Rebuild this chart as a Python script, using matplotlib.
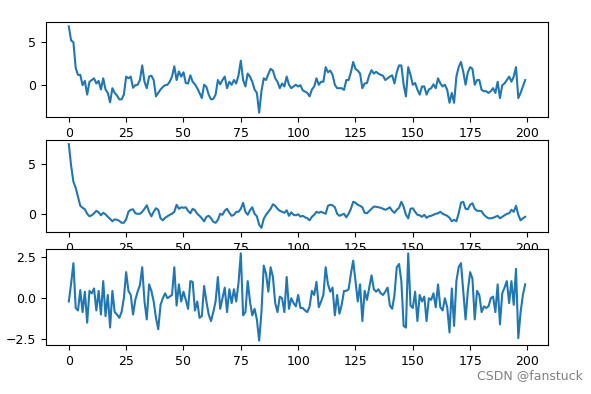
import numpy as np
import matplotlib
matplotlib.use("Agg")
import matplotlib.pyplot as plt

# series (one value per step, 200 steps)
y_top = [
    6.85, 5.2, 5.0, 2.0, 1.2, 1.2, 0.0, 0.5, -1.1, 0.4,
    0.6, 0.8, 0.2, 0.5, -0.5, 0.8, -0.5, -0.9, -2.0, -0.35,
    -0.9, -1.2, -1.65, -1.65, -1.1, 1.0, 0.8, 1.0, -0.3, 0.0,
    0.05, 0.6, 2.3, 0.4, -0.35, 1.0, 1.1, 0.6, -1.3, -0.9,
    -0.5, -0.2, 0.0, 0.05, 0.4, 1.0, 2.2, 0.6, 1.6, 1.0,
    1.5, 0.25, 0.2, 1.15, 0.4, 0.1, -0.35, -0.9, -1.5, 0.05,
    -0.2, -1.1, -1.65, -1.6, -1.1, 0.6, 0.1, 0.6, 1.0, -0.35,
    0.4, 0.05, 0.6, 0.2, 1.15, 2.85, 0.6, -0.15, 1.35, 1.0,
    0.4, -0.5, -0.9, -3.2, -0.7, 0.8, 0.6, 1.3, 1.9, 1.7,
    0.8, 0.4, -0.35, 0.2, -0.15, 1.0, 0.05, -0.35, -0.15, 0.05,
    -0.15, 0.0, -0.6, -0.75, -0.9, -1.3, -0.5, -0.15, 0.8, 0.05,
    0.4, 0.4, 2.1, 1.5, 1.7, 1.2, 0.05, -0.35, -0.35, -0.35,
    -0.55, 0.6, 0.6, 1.5, 2.7, 1.9, 1.7, 1.35, -0.35, 0.2,
    0.25, 1.15, 1.75, 1.35, 1.55, 1.35, 1.2, 1.1, 0.6, 0.8,
    1.0, 1.15, 0.2, 1.5, 2.3, 2.3, 0.05, -1.3, 2.1, 1.2,
    0.05, 0.25, -0.5, -1.1, -0.15, -0.15, -1.1, -0.5, -0.35, 0.1,
    -0.35, 0.8, 0.2, -0.15, 0.05, -0.55, -2.05, -0.9, -2.05, 1.0,
    2.1, 2.7, 1.55, 0.05, 1.5, 2.1, 1.9, 0.05, 0.6, 0.6,
    -0.55, -0.7, -0.7, -0.9, -0.7, -0.35, -0.9, 0.4, -1.5, 0.0,
    0.2, 0.6, 1.0, 0.4, 1.0, 2.1, -1.5, -0.9, -0.15, 0.6,
]

y_mid = [
    6.95, 4.8, 3.2, 2.6, 1.7, 0.8, 0.6, 0.45, 0.0, -0.25,
    -0.15, 0.05, 0.3, 0.15, -0.15, 0.1, -0.05, -0.3, -0.5, -0.75,
    -0.55, -0.6, -0.7, -0.9, -0.9, -0.55, 0.2, 0.4, 0.45, 0.05,
    0.0, 0.0, 0.2, 0.5, 0.85, 0.2, -0.25, 0.2, 0.55, 0.4,
    -0.45, -0.65, -0.4, -0.25, -0.1, 0.0, 0.2, 0.9, 0.5, 0.65,
    0.6, 0.65, 0.3, 0.05, 0.5, 0.35, 0.0, -0.2, -0.45, -0.75,
    -0.3, -0.2, -0.45, -0.8, -0.9, -0.6, 0.0, -0.1, 0.3, 0.5,
    0.1, -0.2, -0.1, 0.2, 0.2, 0.5, 1.1, 0.2, -0.1, 0.35,
    0.65, 0.0, -0.25, -1.1, -1.4, -0.5, -0.1, 0.2, 0.5, 0.95,
    0.8, 0.5, 0.3, 0.2, 0.1, 0.35, -0.2, 0.15, -0.1, -0.15,
    -0.05, -0.28, -0.2, -0.35, -0.45, -0.65, -0.3, -0.1, 0.2, 0.1,
    0.2, 0.1, 0.0, 0.8, 0.9, 0.85, 0.65, 0.0, -0.2, -0.1,
    0.0, -0.35, 0.0, 0.5, 1.2, 1.1, 0.9, 0.8, 0.65, 0.1,
    0.05, 0.28, 0.5, 0.72, 0.7, 0.65, 0.6, 0.5, 0.4, 0.5,
    0.65, 0.3, 0.1, 0.4, 0.6, 1.2, 0.7, -0.1, -0.45, 0.5,
    0.55, 0.2, -0.1, -0.15, -0.3, -0.1, -0.4, -0.25, -0.2, -0.1,
    0.0, 0.05, 0.2, 0.0, -0.1, -0.2, -0.4, -0.75, -0.6, -0.75,
    0.05, 1.1, 1.2, 0.5, 0.45, 0.9, 1.05, 0.5, 0.3, 0.3,
    0.25, -0.1, -0.3, -0.45, -0.45, -0.4, -0.3, -0.2, -0.45, -0.3,
    -0.15, 0.0, 0.05, 0.4, 0.2, 0.8, -0.1, -0.65, -0.45, -0.3,
]

y_bot = [
    -0.2, 0.9, 2.15, -0.6, -0.75, 0.5, -0.85, 0.4, -1.5, 0.45,
    0.3, 0.6, -0.75, 0.45, -1.0, 1.05, -1.1, 0.2, -1.8, 0.45,
    -0.85, -1.0, -1.2, -0.85, 0.0, 1.6, 0.45, 0.2, -1.0, -0.1,
    0.4, 0.8, 1.9, -0.2, -1.3, 0.85, 0.45, -0.2, -1.2, -1.9,
    -0.4, 0.0, 0.3, 0.0, 0.1, 0.2, 1.9, -0.45, 0.85, -0.2,
    0.4, -0.1, -0.65, 1.05, 1.0, -0.75, -0.2, -1.2, -1.1, 0.75,
    -0.2, -1.0, -1.4, -0.85, -0.2, 1.3, -0.65, 0.0, 0.65, -0.85,
    0.55, -0.3, 0.55, -0.2, 0.95, 2.75, -1.05, -0.85, 1.05, -0.2,
    -1.05, -0.65, -1.3, -2.6, -0.85, 2.0, 1.5, 0.4, 1.9, 1.3,
    -0.3, -0.85, 0.1, 0.0, -0.85, 1.3, -0.65, 0.0, -0.3, -0.5,
    0.2, -0.6, -0.6, -0.75, -0.85, -0.5, 0.45, 0.2, 1.0, -0.55,
    -0.2, 0.2, 1.9, 0.85, 0.4, 0.65, -1.05, 0.2, -0.95, -0.4,
    0.45, 0.45, 0.55, 1.5, 2.3, 1.05, -0.2, 0.85, -1.4, 0.45,
    -0.1, 0.65, 1.4, 0.55, 0.4, 0.55, 0.3, 0.2, 0.4, 0.65,
    -0.45, -0.65, 0.2, 1.9, 2.1, 1.05, -1.7, -1.8, 2.75, -0.45,
    -0.6, 0.4, -1.4, 0.2, -0.2, 0.1, -1.4, 0.0, -0.1, 0.3,
    -0.55, 0.85, -0.55, -0.75, 0.0, -0.55, -2.1, 0.6, -1.7, 1.05,
    1.9, 2.15, 0.45, -1.3, 0.45, 1.6, 1.2, -1.3, 0.45, 0.2,
    -0.85, -0.5, -0.6, -0.5, 0.0, 0.1, -0.85, 0.85, -1.6, 0.3,
    0.65, 1.05, -0.3, 1.05, -0.4, 1.8, -2.45, -0.85, 0.2, 0.85,
]

x = np.arange(len(y_top))

fig = plt.figure(figsize=(5.91, 3.94), dpi=100)
W, H = 591.0, 394.0
# axes boxes in pixels: left, top, right, bottom
boxes = [(46, 22, 548, 117), (46, 140, 548, 232), (46, 249, 548, 345)]
series = [y_top, y_mid, y_bot]

for (l, t, r, b), y in zip(boxes, series):
    ax = fig.add_axes([l / W, 1 - b / H, (r - l) / W, (b - t) / H])
    ax.plot(x, y, color="#1f77b4", lw=1.5)
    ax.set_xticks([0, 25, 50, 75, 100, 125, 150, 175, 200])
    ax.tick_params(labelsize=9)

fig.axes[2].set_yticks([-2.5, 0.0, 2.5])
fig.text(0.987, 0.03, "CSDN @fanstuck", ha="right", va="bottom",
         fontsize=9, color="#808080")

fig.savefig("out.png", dpi=100)
